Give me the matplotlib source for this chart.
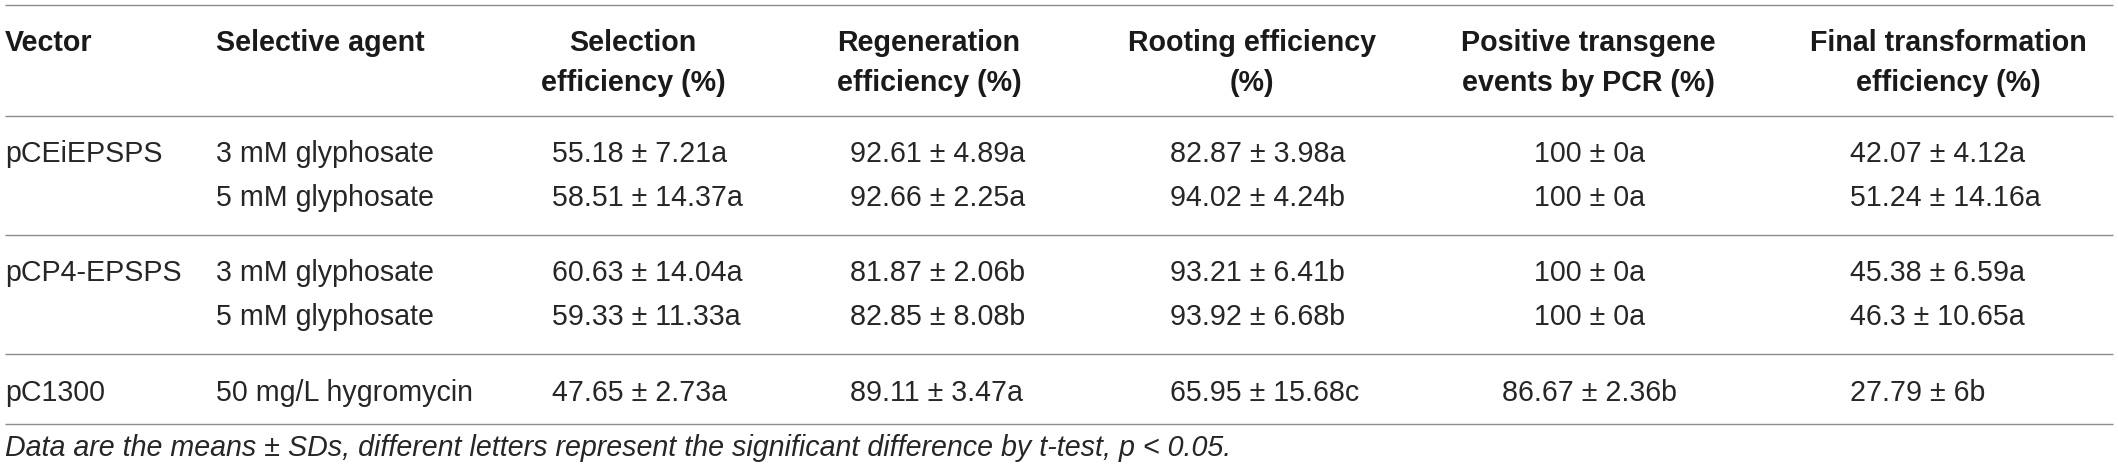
import matplotlib
matplotlib.use("Agg")
import matplotlib.pyplot as plt

plt.rcParams['font.family'] = ['Liberation Sans', 'DejaVu Sans']

# table content
headers = ["Selection\nefficiency (%)", "Regeneration\nefficiency (%)",
           "Rooting efficiency\n(%)", "Positive transgene\nevents by PCR (%)",
           "Final transformation\nefficiency (%)"]
vectors = ["pCEiEPSPS", "", "pCP4-EPSPS", "", "pC1300"]
agents = ["3 mM glyphosate", "5 mM glyphosate", "3 mM glyphosate",
          "5 mM glyphosate", "50 mg/L hygromycin"]
sel_mean = ["55.18", "58.51", "60.63", "59.33", "47.65"]
sel_sd = ["7.21a", "14.37a", "14.04a", "11.33a", "2.73a"]
reg_mean = ["92.61", "92.66", "81.87", "82.85", "89.11"]
reg_sd = ["4.89a", "2.25a", "2.06b", "8.08b", "3.47a"]
root_mean = ["82.87", "94.02", "93.21", "93.92", "65.95"]
root_sd = ["3.98a", "4.24b", "6.41b", "6.68b", "15.68c"]
pcr_mean = ["100", "100", "100", "100", "86.67"]
pcr_sd = ["0a", "0a", "0a", "0a", "2.36b"]
fin_mean = ["42.07", "51.24", "45.38", "46.3", "27.79"]
fin_sd = ["4.12a", "14.16a", "6.59a", "10.65a", "6b"]
footnote = ("Data are the means \u00b1 SDs, different letters represent the "
            "significant difference by t-test, p < 0.05.")

means = [sel_mean, reg_mean, root_mean, pcr_mean, fin_mean]
sds = [sel_sd, reg_sd, root_sd, pcr_sd, fin_sd]

# layout (pixels)
W, H = 2118, 473
head_x = [633, 929, 1252, 1588, 1948]
cell_x = [552, 850, 1170, 1590, 1850]
cell_ha = ["left", "left", "left", "center", "left"]
row_y = [154, 198, 273, 317, 393]
rule_y = [5, 116, 235, 354, 424]
fs = 20.6
txt_col = "#262626"
head_col = "#1a1a1a"

fig = plt.figure(figsize=(W / 100, H / 100), dpi=100)
ax = fig.add_axes([0, 0, 1, 1])
ax.set_xlim(0, W)
ax.set_ylim(H, 0)
ax.axis("off")

for y in rule_y:
    ax.plot([5, 2113], [y, y], color="#8c8c8c", lw=1.0, solid_capstyle="butt")

# header
ax.text(5, 43, "Vector", fontsize=fs, fontweight="bold", color=head_col, va="center")
ax.text(216, 43, "Selective agent", fontsize=fs, fontweight="bold", color=head_col, va="center")
for x, h in zip(head_x, headers):
    top, bottom = h.split("\n")
    ax.text(x, 43, top, fontsize=fs, fontweight="bold", color=head_col, ha="center", va="center")
    ax.text(x, 83, bottom, fontsize=fs, fontweight="bold", color=head_col, ha="center", va="center")

# body
for i, y in enumerate(row_y):
    if vectors[i]:
        ax.text(5, y, vectors[i], fontsize=fs, color=txt_col, va="center")
    ax.text(216, y, agents[i], fontsize=fs, color=txt_col, va="center")
    for j, x in enumerate(cell_x):
        ax.text(x, y, f"{means[j][i]} \u00b1 {sds[j][i]}", fontsize=fs,
                color=txt_col, ha=cell_ha[j], va="center")

ax.text(5, 448, footnote, fontsize=fs, style="italic", color=txt_col, va="center")

fig.savefig("out.png", dpi=100)
